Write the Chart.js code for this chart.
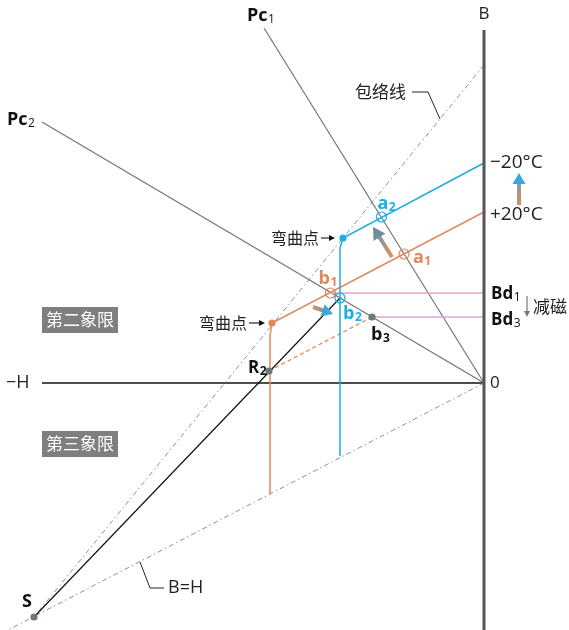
<!DOCTYPE html>
<html>
<head>
<meta charset="utf-8">
<script src="https://cdn.jsdelivr.net/npm/chart.js@4.4.1/dist/chart.umd.min.js"></script>
<style>
  html, body { margin: 0; padding: 0; background: #fff; }
</style>
</head>
<body>
<canvas id="magChart" width="569" height="630"></canvas>
<script>
// H runs left (negative), B runs up. Origin is the point "0".
const hRange = [-48.4, 8.5];
const bRange = [-24.7, 38.3];

const bAxis = [[0, 35.3], [0, -24.7]];
const hAxis = [[-44.2, 0], [0, 0]];
const envelope = [[0, 31.8], [-45.0, -23.4]];      // 包络线
const loadBH = [[0, 0], [-47.6, -24.7]];           // B=H
const pc1 = [[-22.0, 35.5], [0, 0]];
const pc2 = [[-44.2, 26.1], [0, 0]];
const curveCold = [[0, 22.0], [-14.1, 14.5], [-14.4, 13.5], [-14.4, -7.3]];  // -20°C
const curveHot = [[0, 17.1], [-21.2, 6.0], [-21.4, 4.7], [-21.4, -11.1]];    // +20°C
const recoilS = [[-45.0, -23.4], [-14.4, 8.5]];    // S -> b2
const recoilR2 = [[-21.5, 1.2], [-11.2, 6.6]];     // R2 -> b3
const levelBd1 = [[-15.35, 9.0], [0, 9.0]];
const levelBd3 = [[-11.2, 6.6], [0, 6.6]];
const leaderEnv = [[-7.2, 29.1], [-5.6, 29.1], [-4.4, 26.4]];
const leaderBH = [[-34.4, -17.9], [-33.4, -20.5], [-32.0, -20.5]];

const openHot = [[-8.0, 12.9], [-15.35, 9.0]];     // a1, b1
const openCold = [[-10.25, 16.6], [-14.4, 8.5]];   // a2, b2
const kneeCold = [[-14.1, 14.5]];
const kneeHot = [[-21.2, 6.0]];
const grayDots = [[-21.5, 1.2], [-11.2, 6.6], [-45.0, -23.4]]; // R2, b3, S

const BLUE = '#19afe6';
const ORANGE = '#e0895a';
const GRAY = '#6f7577';
const PINK = '#dba7cd';
const DOT = '#6b7a78';

const pts = arr => arr.map(([x, y]) => ({ x, y }));

const line = (arr, color, width, dash) => ({
  data: pts(arr), showLine: true, borderColor: color, borderWidth: width,
  borderDash: dash || [], pointRadius: 0, fill: false, tension: 0
});
const dots = (arr, stroke, fillC, r) => ({
  data: pts(arr), showLine: false, pointRadius: r, pointBorderColor: stroke,
  pointBackgroundColor: fillC, pointBorderWidth: 1.2
});

const LAT = '"Open Sans", "Noto Sans", sans-serif';
const CJK = '"Noto Sans CJK SC", sans-serif';

function txt(ctx, main, sub, X, Y, size, color, bold, align, subBold) {
  ctx.fillStyle = color;
  ctx.textBaseline = 'middle';
  ctx.font = (bold ? 'bold ' : '') + size + 'px ' + LAT;
  const w = ctx.measureText(main).width;
  const subFont = (subBold ? 'bold ' : '') + Math.round(size * 0.68) + 'px ' + LAT;
  ctx.font = subFont;
  const ws = sub ? ctx.measureText(sub).width : 0;
  let left = X;
  if (align === 'center') left = X - (w + ws) / 2;
  ctx.textAlign = 'left';
  ctx.font = (bold ? 'bold ' : '') + size + 'px ' + LAT;
  ctx.fillText(main, left, Y);
  if (sub) {
    ctx.font = subFont;
    ctx.fillText(sub, left + w + 0.5, Y + size * 0.22);
  }
}

function cjk(ctx, s, X, Y, size, color, align) {
  ctx.fillStyle = color;
  ctx.textBaseline = 'middle';
  ctx.textAlign = align || 'left';
  ctx.font = size + 'px ' + CJK;
  ctx.fillText(s, X, Y);
}

function arrow(ctx, x1, y1, x2, y2, o) {
  const a = Math.atan2(y2 - y1, x2 - x1);
  const c = Math.cos(a), s = Math.sin(a);
  const bx = x2 - o.hl * c, by = y2 - o.hl * s;
  let shaft = o.solid;
  if (!shaft) {
    shaft = ctx.createLinearGradient(x1, y1, bx, by);
    shaft.addColorStop(0, o.c0);
    shaft.addColorStop(1, o.c1);
  }
  ctx.save();
  ctx.strokeStyle = shaft;
  ctx.lineWidth = o.w;
  ctx.beginPath();
  ctx.moveTo(x1, y1);
  ctx.lineTo(bx + c, by + s);
  ctx.stroke();
  ctx.fillStyle = o.solid || o.head;
  ctx.beginPath();
  ctx.moveTo(x2, y2);
  ctx.lineTo(bx - s * o.hw / 2, by + c * o.hw / 2);
  ctx.lineTo(bx + s * o.hw / 2, by - c * o.hw / 2);
  ctx.closePath();
  ctx.fill();
  ctx.restore();
}

const annotations = {
  id: 'annotations',
  afterDatasetsDraw(chart) {
    const { ctx, scales: { x, y } } = chart;
    const X = v => x.getPixelForValue(v);
    const Y = v => y.getPixelForValue(v);
    const ox = X(0), oy = Y(0);

    // axis labels
    txt(ctx, 'B', null, ox, 14, 17, '#222', false, 'center');
    txt(ctx, '0', null, ox + 6, oy, 17, '#222');
    txt(ctx, '\u2212H', null, 6, oy, 18, '#222');

    txt(ctx, 'Pc', '1', 247, 16, 18, '#111', true);
    txt(ctx, 'Pc', '2', 7, 120, 18, '#111', true);
    cjk(ctx, '包络线', 355, 92, 17, '#222');

    txt(ctx, '\u221220\u00b0C', null, ox + 6, Y(curveCold[0][1]), 19, '#222');
    txt(ctx, '+20\u00b0C', null, ox + 6, Y(curveHot[0][1]) + 3, 19, '#222');

    txt(ctx, 'a', '2', X(openCold[0][0]) - 4, Y(openCold[0][1]) - 13, 18, BLUE, true, null, true);
    txt(ctx, 'a', '1', X(openHot[0][0]) + 9, Y(openHot[0][1]) + 4, 18, ORANGE, true, null, true);
    txt(ctx, 'b', '1', X(openHot[1][0]) - 12, Y(openHot[1][1]) - 14, 18, ORANGE, true, null, true);
    txt(ctx, 'b', '2', X(openCold[1][0]) + 3, Y(openCold[1][1]) + 16, 18, BLUE, true, null, true);
    txt(ctx, 'b', '3', X(grayDots[1][0]) - 1, Y(grayDots[1][1]) + 18, 18, '#111', true, null, true);
    txt(ctx, 'R', '2', X(grayDots[0][0]) - 21, Y(grayDots[0][1]) - 3, 17, '#111', true, null, true);
    txt(ctx, 'S', null, X(grayDots[2][0]) - 12, Y(grayDots[2][1]) - 15, 18, '#111', true);
    txt(ctx, 'B=H', null, 168, 588, 18, '#222');

    txt(ctx, 'Bd', '1', ox + 7, Y(levelBd1[0][1]) + 1, 17, '#111', true);
    txt(ctx, 'Bd', '3', ox + 7, Y(levelBd3[0][1]) + 3, 17, '#111', true);
    cjk(ctx, '减磁', 533, 307, 17, '#222');
    arrow(ctx, 527, 296, 527, 317, { w: 1.2, hl: 6, hw: 6, solid: '#777' });

    // 弯曲点 pointers
    const kc = Y(kneeCold[0][1]), kh = Y(kneeHot[0][1]);
    cjk(ctx, '弯曲点', 319, kc, 16, '#222', 'right');
    arrow(ctx, 321, kc, X(kneeCold[0][0]) - 8, kc, { w: 1.1, hl: 6, hw: 6, solid: '#111' });
    cjk(ctx, '弯曲点', 247, kh, 16, '#222', 'right');
    arrow(ctx, 249, kh, X(kneeHot[0][0]) - 7, kh, { w: 1.1, hl: 6, hw: 6, solid: '#111' });

    // quadrant tags
    ctx.fillStyle = '#7f7f7f';
    ctx.fillRect(42, 307, 76, 26);
    ctx.fillRect(42, 431, 76, 26);
    cjk(ctx, '第二象限', 80, 320, 17, '#fff', 'center');
    cjk(ctx, '第三象限', 80, 444, 17, '#fff', 'center');

    // temperature shift arrows
    arrow(ctx, X(3.5), Y(17.8), X(3.5), Y(21.0), { w: 4, hl: 11, hw: 13, c0: '#e0895a', c1: '#8a9aa0', head: '#34a9dc' });
    arrow(ctx, X(-9.2), Y(12.6), X(-11.1), Y(15.6), { w: 4, hl: 12, hw: 14, c0: '#d9925e', c1: '#8a9296', head: '#6f8e9c' });
    arrow(ctx, X(-17.1), Y(7.6), X(-15.1), Y(6.9), { w: 4, hl: 11, hw: 13, c0: '#d9925e', c1: '#8a9296', head: '#3aa7d6' });
  }
};

new Chart(document.getElementById('magChart'), {
  type: 'scatter',
  data: {
    datasets: [
      dots(openCold, BLUE, 'rgba(0,0,0,0)', 5),
      dots(openHot, ORANGE, 'rgba(0,0,0,0)', 5),
      dots(kneeCold, BLUE, BLUE, 3),
      dots(kneeHot, ORANGE, ORANGE, 3),
      dots(grayDots, DOT, DOT, 3),
      line(bAxis, '#555', 3),
      line(curveCold, BLUE, 1.5),
      line(curveHot, ORANGE, 1.5),
      line(recoilS, '#111', 1.2),
      line(recoilR2, ORANGE, 1.3, [4, 3]),
      line(levelBd1, PINK, 1.5),
      line(levelBd3, PINK, 1.5),
      line(pc1, GRAY, 1.2),
      line(pc2, GRAY, 1.2),
      line(envelope, '#8a9290', 1, [5, 3, 1.5, 3]),
      line(loadBH, '#8a9290', 1, [5, 3, 1.5, 3]),
      line(hAxis, '#111', 1.5),
      line(leaderEnv, '#222', 1),
      line(leaderBH, '#222', 1)
    ]
  },
  options: {
    responsive: false,
    animation: false,
    devicePixelRatio: 1,
    layout: { padding: 0, autoPadding: false },
    plugins: { legend: { display: false }, tooltip: { enabled: false } },
    scales: {
      x: { type: 'linear', min: hRange[0], max: hRange[1], display: false },
      y: { type: 'linear', min: bRange[0], max: bRange[1], display: false }
    }
  },
  plugins: [annotations]
});
</script>
</body>
</html>
